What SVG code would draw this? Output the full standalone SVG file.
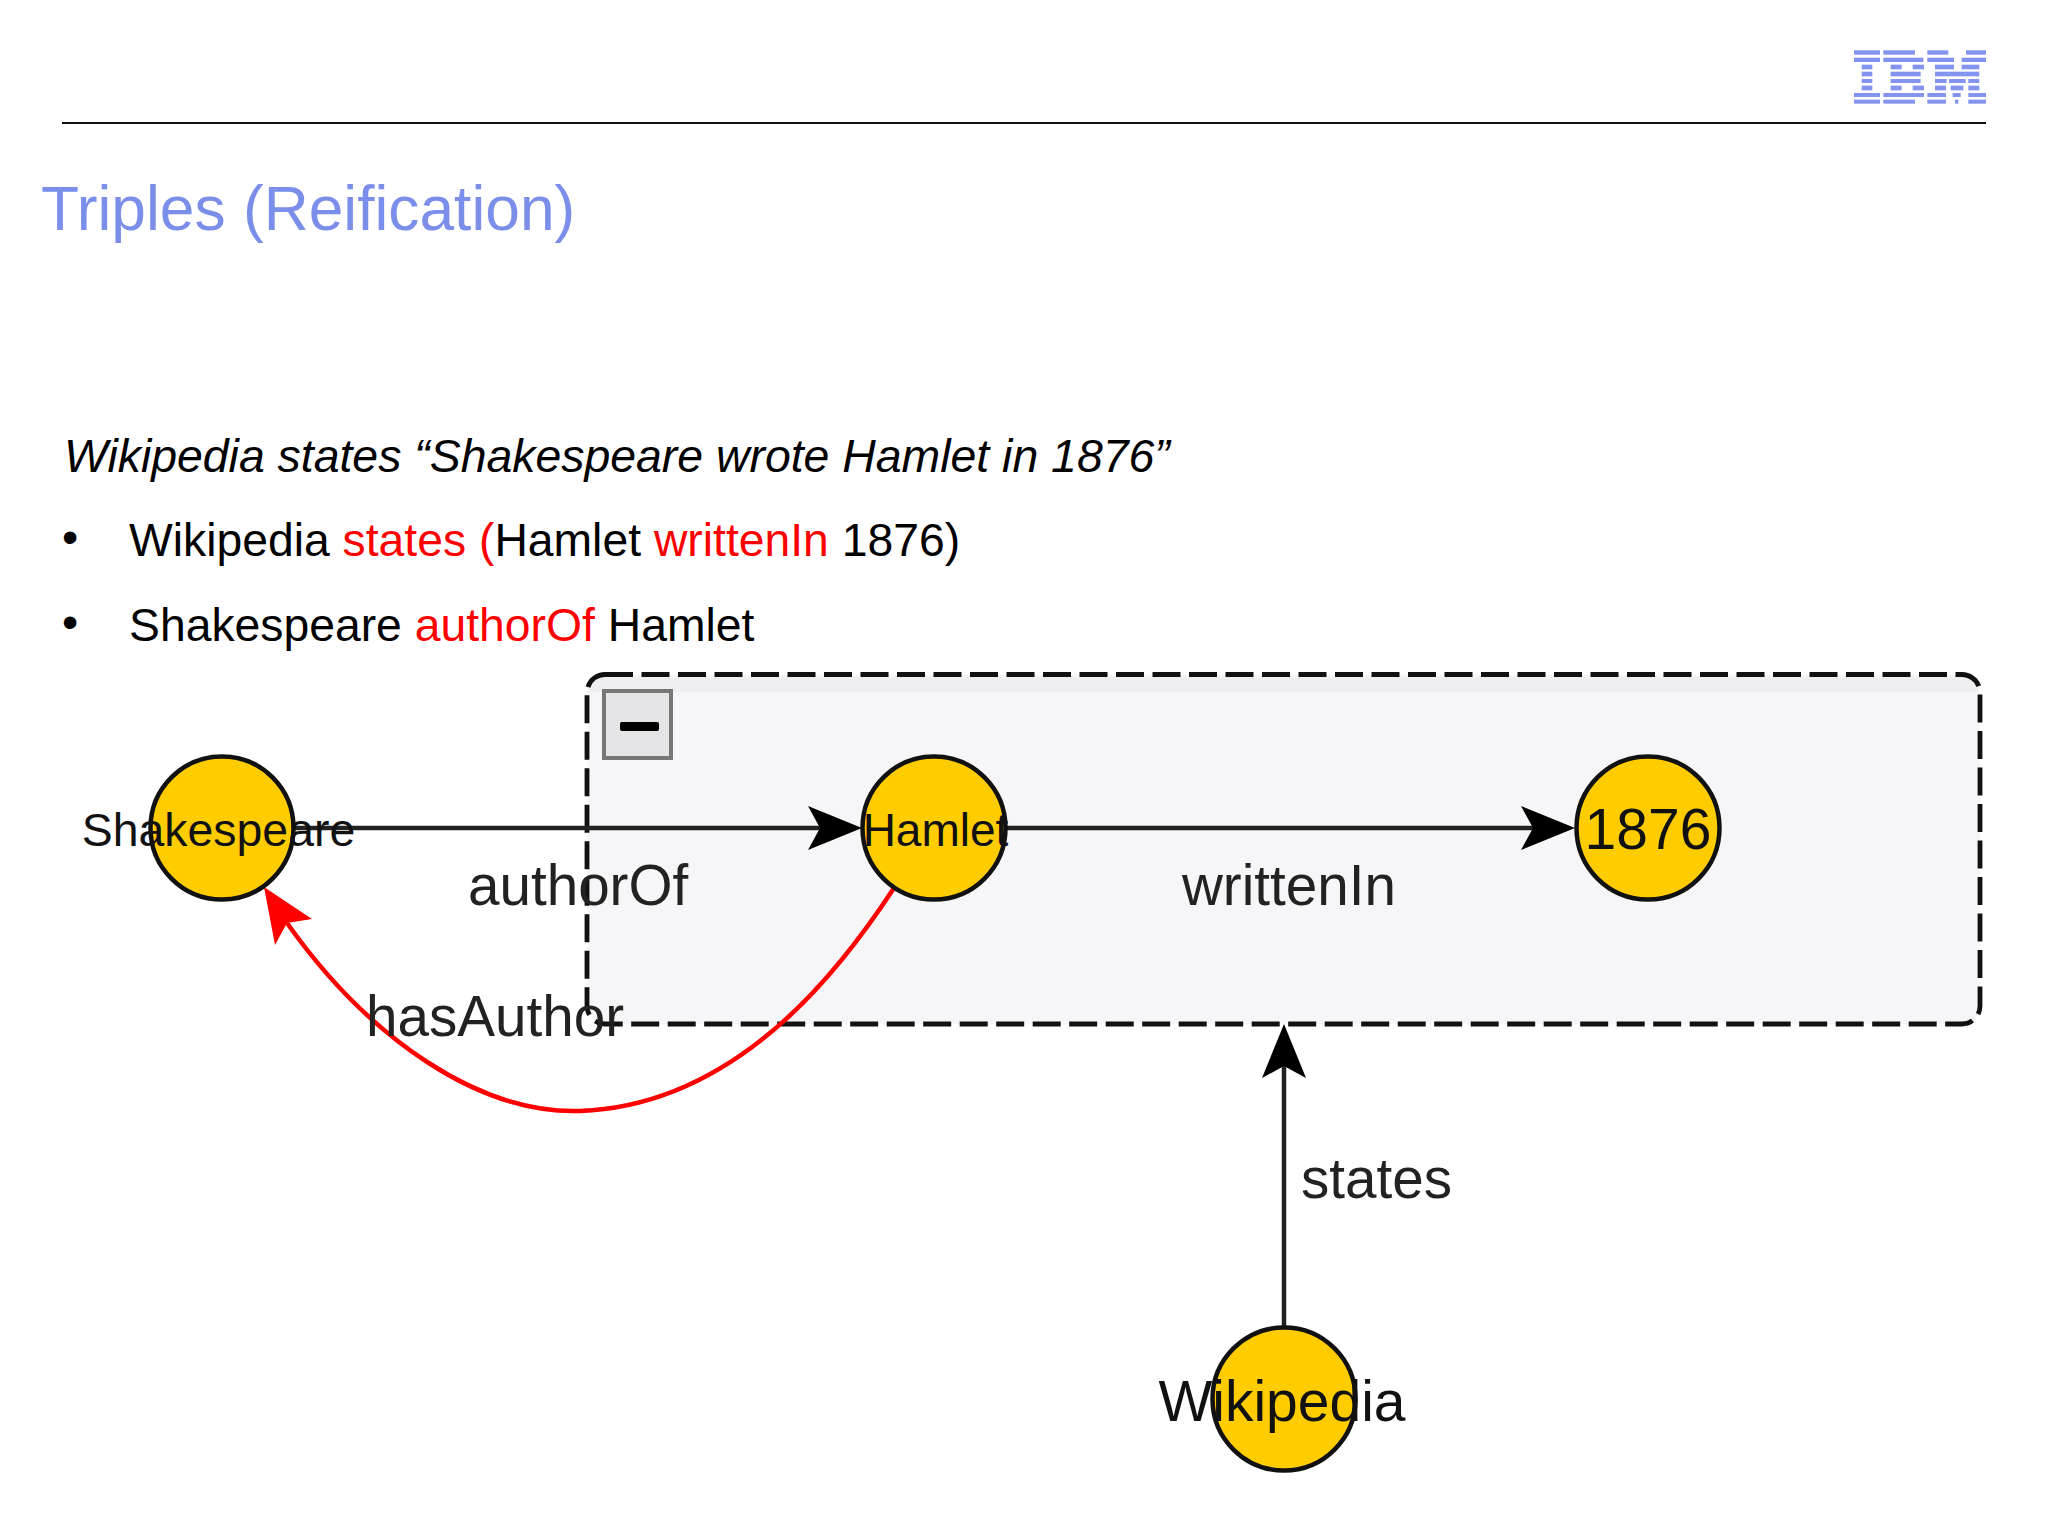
<svg xmlns="http://www.w3.org/2000/svg" width="2048" height="1535" viewBox="0 0 2048 1535">
<style>
text{font-family:"Liberation Sans",Arial,sans-serif}
.t{fill:#000;font-size:46.3px}
.r{fill:#f00}
.l{fill:#222;font-size:56.6px}
.n{fill:#ffcc00;stroke:#111;stroke-width:4.5}
.nt{fill:#111;font-size:46px;text-anchor:middle}
.c{fill:none;stroke:#222;stroke-width:4.5}
.ibm rect{fill:#8294ee}
</style>
<defs>
<path id="h" d="M0 0L-54-22L-42 0L-54 22Z" fill="#000"/>
</defs>
<rect width="2048" height="1535" fill="#fff"/>
<g id="logo" class="ibm" transform="translate(1800 30) scale(.3333)">
<rect x="162" y="61" width="78" height="13"/><rect x="250" y="61" width="95" height="13"/><rect x="382" y="61" width="63" height="13"/><rect x="498" y="61" width="60" height="13"/>
<rect x="162" y="83" width="78" height="13"/><rect x="250" y="83" width="120" height="13"/><rect x="382" y="83" width="80" height="13"/><rect x="485" y="83" width="73" height="13"/>
<rect x="185" y="104" width="32" height="14"/><rect x="272" y="104" width="33" height="14"/><rect x="338" y="104" width="34" height="14"/><rect x="405" y="104" width="57" height="14"/><rect x="485" y="104" width="53" height="14"/>
<rect x="185" y="125" width="32" height="14"/><rect x="272" y="125" width="90" height="14"/><rect x="405" y="125" width="133" height="14"/>
<rect x="185" y="147" width="32" height="12"/><rect x="272" y="147" width="90" height="12"/><rect x="405" y="147" width="35" height="12"/><rect x="447" y="147" width="50" height="12"/><rect x="505" y="147" width="33" height="12"/>
<rect x="185" y="167" width="32" height="14"/><rect x="272" y="167" width="33" height="14"/><rect x="338" y="167" width="34" height="14"/><rect x="405" y="167" width="33" height="14"/><rect x="452" y="167" width="38" height="14"/><rect x="505" y="167" width="33" height="14"/>
<rect x="162" y="189" width="78" height="12"/><rect x="250" y="189" width="122" height="12"/><rect x="382" y="189" width="56" height="12"/><rect x="458" y="189" width="24" height="12"/><rect x="505" y="189" width="53" height="12"/>
<rect x="162" y="209" width="78" height="12"/><rect x="250" y="209" width="95" height="12"/><rect x="382" y="209" width="56" height="12"/><rect x="465" y="209" width="10" height="12"/><rect x="505" y="209" width="53" height="12"/>
</g>
<line x1="62" y1="123" x2="1986" y2="123" stroke="#111" stroke-width="2"/>
<text x="41" y="230" font-size="62.3" fill="#7b8eea">Triples (Reification)</text>
<text class="t" x="64" y="472" font-style="italic" style="font-size:46.4px">Wikipedia states “Shakespeare wrote Hamlet in 1876”</text>
<text class="t" x="62" y="553">•</text>
<text class="t" x="129" y="556">Wikipedia <tspan class="r">states (</tspan>Hamlet <tspan class="r">writtenIn</tspan> 1876)</text>
<text class="t" x="62" y="638">•</text>
<text class="t" x="129" y="641">Shakespeare <tspan class="r">authorOf</tspan> Hamlet</text>

<g id="group-box">
<rect x="587" y="674.5" width="1393" height="349.5" rx="18" fill="#f6f5f8"/>
<rect x="589" y="677" width="1389" height="15" fill="#eeedf0"/>
<rect x="587" y="674.5" width="1393" height="349.5" rx="18" fill="none" stroke="#111" stroke-width="4.8" stroke-dasharray="28 8.5"/>
<g id="collapse-button">
<rect x="604" y="691" width="67" height="67" fill="#e5e4e7" stroke="#777" stroke-width="4"/>
<rect x="620" y="722" width="39" height="9" rx="2" fill="#000"/>
</g>
</g>

<g id="connectors">
<line class="c" x1="222" y1="828" x2="830" y2="828"/>
<use href="#h" x="862" y="828"/>
<line class="c" x1="934" y1="828" x2="1545" y2="828"/>
<use href="#h" x="1575" y="828"/>
<line class="c" x1="1284" y1="1398" x2="1284" y2="1050"/>
<use href="#h" transform="translate(1284 1024) rotate(-90)"/>
<path d="M894 888C850 955 745 1105 580 1111C480 1114 370 1040 287 923" fill="none" stroke="#f00" stroke-width="4.5"/>
<path d="M264 887L312 919L287 923L275 945Z" fill="#f00"/>
</g>

<g id="node-shakespeare"><circle class="n" cx="222" cy="828" r="71.5"/><text class="nt" x="218.500" y="846" style="font-size:46.4px">Shakespeare</text></g>
<g id="node-hamlet"><circle class="n" cx="934" cy="828" r="71.5"/><text class="nt" x="935.500" y="846">Hamlet</text></g>
<g id="node-1876"><circle class="n" cx="1648" cy="828" r="71.500"/><text class="nt" x="1648" y="849" style="font-size:57px">1876</text></g>
<g id="node-wikipedia"><circle class="n" cx="1284" cy="1399" r="71.500"/><text class="nt" x="1282" y="1421" style="font-size:57px">Wikipedia</text></g>

<g id="labels">
<text class="l" x="468" y="905">authorOf</text>
<text class="l" x="1182" y="905">writtenIn</text>
<text class="l" x="366" y="1036">hasAuthor</text>
<text class="l" x="1301" y="1198">states</text>
</g>
</svg>
